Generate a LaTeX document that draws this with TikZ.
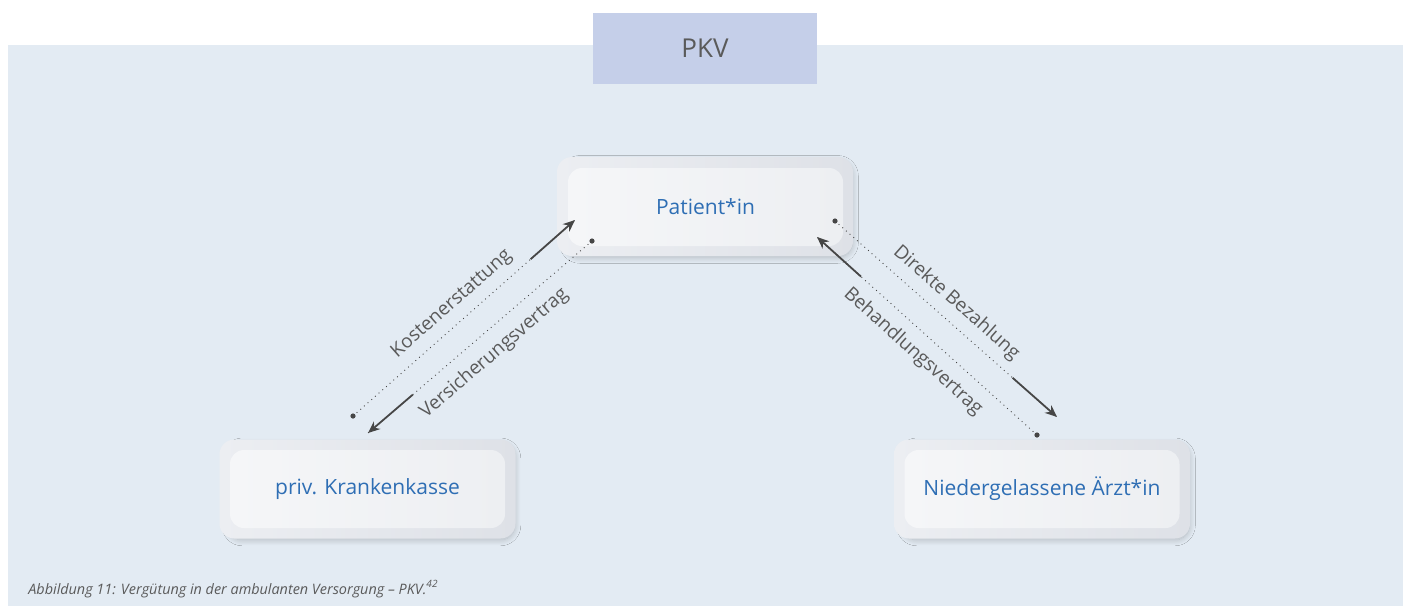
\documentclass[tikz,border=0pt]{standalone}
\usepackage{fontspec}
\setmainfont{Open Sans}
\usepackage{tikz}
\usetikzlibrary{calc,positioning,arrows.meta,shadows.blur,backgrounds}
\definecolor{bgblue}{RGB}{227,235,243}
\definecolor{tabblue}{RGB}{197,207,233}
\definecolor{boxdark}{RGB}{222,225,231}
\definecolor{boxlight}{RGB}{236,238,242}
\definecolor{innerdark}{RGB}{237,239,242}
\definecolor{innerlight}{RGB}{245,246,248}
\definecolor{txtblue}{RGB}{46,110,180}
\definecolor{linegray}{RGB}{70,70,70}
\definecolor{lblgray}{RGB}{90,90,90}
\tikzstyle{outerbox}  = [rectangle, rounded corners=7.5pt, minimum width=148pt, minimum height=49.5pt, left color=boxlight, right color=boxdark, blur shadow={shadow xshift=2pt, shadow yshift=-1.5pt, shadow scale=0.97, shadow opacity=22, shadow blur radius=3pt, shadow blur steps=14}]
\tikzstyle{innerbox}  = [rectangle, rounded corners=7pt, minimum width=137.5pt, minimum height=39pt, left color=innerlight, right color=innerdark, text=txtblue, font=\fontsize{10.5}{12}\selectfont]
\tikzstyle{tab}       = [rectangle, fill=tabblue, minimum width=112pt, minimum height=35.5pt, text=lblgray, font=\fontsize{13}{15}\selectfont]
\tikzstyle{dotline}   = [linegray, line width=0.45pt, dotted]
\tikzstyle{arrowline} = [linegray, line width=0.9pt, -{Stealth[length=6pt,width=5pt]}]
\tikzstyle{lbl}       = [text=lblgray, inner sep=0pt, sloped, font=\fontsize{9.5}{11}\selectfont]

\begin{document}
\begin{tikzpicture}[x=0.5pt,y=-0.5pt]
		\useasboundingbox (0,0) rectangle (1405,606);
		\fill[bgblue] (8,45) rectangle (1403,606);
		\node[tab] (pkv) at (705,48.5) {PKV};

		% boxes
		\node[outerbox] (patOut) at (705,206.5) {};
		\node[innerbox] (pat) at (705.5,207) {Patient*in};
		\node[outerbox] (pkkOut) at (367.5,489) {};
		\node[innerbox] (pkk) at (367.5,489) {priv. Krankenkasse};
		\node[outerbox] (arztOut) at (1042,489) {};
		\node[innerbox] (arzt) at (1042,489) {Niedergelassene Ärzt*in};

		% end points
		\coordinate (kDot) at (353,416);
		\coordinate (kTip) at (575,220);
		\coordinate (vDot) at (592,241);
		\coordinate (vTip) at (368,433);
		\coordinate (dDot) at (835,221);
		\coordinate (dTip) at (1057,417);
		\coordinate (bDot) at (1037,435);
		\coordinate (bTip) at (817,237);

		\draw[dotline] (kDot) -- (kTip);
		\draw[arrowline] ($(kDot)!0.8!(kTip)$) -- (kTip);
		\draw[dotline] (vDot) -- (vTip);
		\draw[arrowline] ($(vDot)!0.8!(vTip)$) -- (vTip);
		\draw[dotline] (dDot) -- (dTip);
		\draw[arrowline] ($(dDot)!0.8!(dTip)$) -- (dTip);
		\draw[dotline] (bDot) -- (bTip);
		\draw[arrowline] ($(bDot)!0.8!(bTip)$) -- (bTip);

		\fill[linegray] (kDot) circle (1.3pt);
		\fill[linegray] (vDot) circle (1.3pt);
		\fill[linegray] (dDot) circle (1.3pt);
		\fill[linegray] (bDot) circle (1.3pt);

		\path (kDot) -- (kTip) node[lbl, pos=0.5, above=4.5pt] {Kostenerstattung};
		\path (vTip) -- (vDot) node[lbl, pos=0.5, below=6pt] {Versicherungsvertrag};
		\path (dDot) -- (dTip) node[lbl, pos=0.49, above=4.5pt] {Direkte Bezahlung};
		\path (bTip) -- (bDot) node[lbl, pos=0.5, below=5.5pt] {Behandlungsvertrag};

		\node[anchor=base west, text=lblgray, inner sep=0pt, font=\fontsize{7.2}{8}\selectfont\itshape] (cap) at (28,594) {Abbildung 11: Vergütung in der ambulanten Versorgung -- PKV.\textsuperscript{42}};
	\end{tikzpicture}
\end{document}
